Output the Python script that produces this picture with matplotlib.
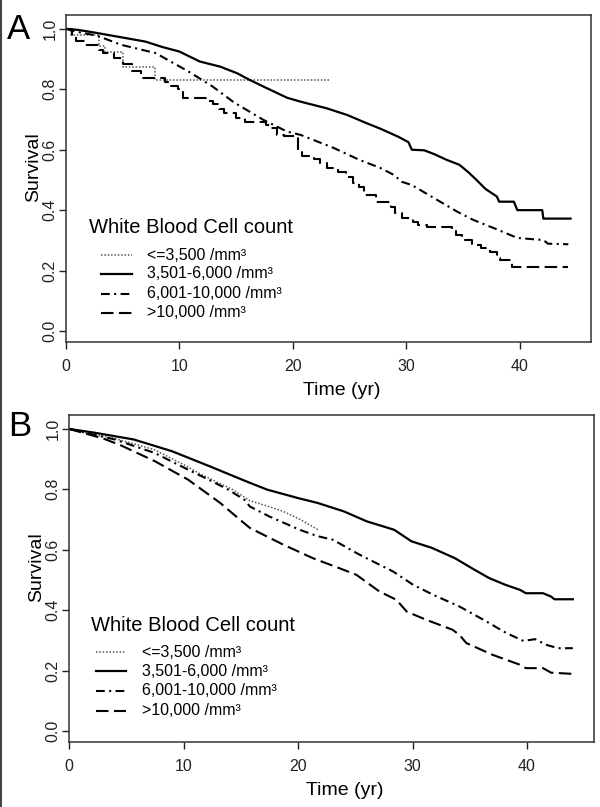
import matplotlib
matplotlib.use("Agg")
import matplotlib.pyplot as plt
from matplotlib.lines import Line2D

plt.rcParams['font.family'] = ['Liberation Sans', 'DejaVu Sans']

legend_title = 'White Blood Cell count'
group_labels = ['<=3,500 /mm³', '3,501-6,000 /mm³', '6,001-10,000 /mm³', '>10,000 /mm³']
x_ticks = [0, 10, 20, 30, 40]
y_ticks = [0.0, 0.2, 0.4, 0.6, 0.8, 1.0]

# panel A (step curves, Kaplan-Meier)
a_t_le3500 = [0, 0.4, 2.9, 3.4, 5.05, 7.85, 23.3]
a_s_le3500 = [1.0, 0.98, 0.945, 0.925, 0.873, 0.832, 0.832]

a_t_3501 = [0, 1.0, 2.5, 4.0, 5.5, 7.0, 8.5, 10.0, 11.8, 13.6, 15.1, 16.2, 17.7, 19.5, 20.7,
            23.0, 24.8, 26.5, 27.7, 29.3, 30.2, 30.5, 31.6, 32.5, 33.6, 34.7, 35.5, 36.2,
            37.0, 38.0, 38.2, 39.5, 39.8, 42.0, 42.1, 44.5]
a_s_3501 = [1.0, 0.997, 0.988, 0.978, 0.968, 0.958, 0.94, 0.925, 0.892, 0.875, 0.853, 0.831,
            0.804, 0.772, 0.759, 0.737, 0.715, 0.688, 0.67, 0.643, 0.625, 0.60, 0.598, 0.585,
            0.566, 0.55, 0.525, 0.50, 0.47, 0.445, 0.428, 0.428, 0.40, 0.40, 0.372, 0.372]

a_t_6001 = [0, 1.0, 2.7, 4.9, 7.9, 10.8, 12.9, 14.8, 17.4, 19.5, 20.7, 23.6, 25.9, 27.7, 28.9,
            29.6, 30.5, 31.5, 33.0, 34.5, 35.9, 37.7, 39.8, 42.1, 42.5, 44.3]
a_s_6001 = [1.0, 0.99, 0.978, 0.947, 0.92, 0.859, 0.81, 0.757, 0.699, 0.66, 0.649, 0.606,
            0.566, 0.54, 0.517, 0.494, 0.483, 0.461, 0.428, 0.395, 0.368, 0.341, 0.308,
            0.301, 0.289, 0.287]

a_t_10000 = [0, 0.5, 0.9, 1.7, 2.9, 3.3, 4.2, 5.0, 5.8, 6.6, 8.7, 9.3, 9.9, 10.3, 12.6, 13.0,
             13.5, 13.9, 15.0, 15.8, 17.6, 18.0, 18.6, 19.2, 20.5, 20.8, 21.9, 22.4, 23.0,
             24.0, 24.7, 25.3, 25.8, 26.3, 27.3, 28.7, 29.0, 29.6, 30.6, 31.0, 31.8, 34.0,
             34.4, 34.9, 35.8, 36.6, 37.4, 38.0, 38.3, 39.3, 44.3]
a_s_10000 = [1.0, 0.975, 0.96, 0.947, 0.93, 0.92, 0.905, 0.885, 0.862, 0.838, 0.825, 0.81,
             0.80, 0.77, 0.76, 0.75, 0.735, 0.72, 0.705, 0.693, 0.682, 0.672, 0.65, 0.645,
             0.6, 0.58, 0.57, 0.555, 0.54, 0.525, 0.51, 0.49, 0.475, 0.45, 0.428, 0.41,
             0.39, 0.374, 0.36, 0.352, 0.345, 0.33, 0.318, 0.30, 0.285, 0.275, 0.262, 0.24,
             0.235, 0.213, 0.213]

# panel B
b_t_le3500 = [0, 2.2, 4.0, 7.4, 10.0, 11.4, 12.8, 14.3, 15.2, 15.8, 17.3, 18.7, 20.2, 21.75]
b_s_le3500 = [1.0, 0.981, 0.968, 0.932, 0.882, 0.852, 0.826, 0.799, 0.777, 0.762, 0.745,
              0.727, 0.70, 0.666]

b_t_3501 = [0, 2.3, 5.65, 9.0, 12.3, 15.5, 17.3, 20.0, 21.7, 24.0, 26.0, 28.4, 29.9, 31.7,
            33.7, 35.4, 36.7, 38.1, 39.4, 39.9, 41.4, 42.1, 42.4, 44.0]
b_s_3501 = [1.0, 0.987, 0.965, 0.926, 0.876, 0.826, 0.799, 0.771, 0.755, 0.727, 0.694, 0.666,
            0.628, 0.606, 0.572, 0.534, 0.506, 0.484, 0.467, 0.456, 0.456, 0.445, 0.436, 0.436]

b_t_6001 = [0, 4.0, 7.5, 10.4, 12.3, 13.9, 15.3, 15.8, 17.5, 20.15, 21.7, 23.05, 25.4, 28.3,
            30.05, 31.8, 34.1, 36.2, 38.2, 39.7, 40.7, 41.7, 42.7, 44.0]
b_s_6001 = [1.0, 0.965, 0.92, 0.865, 0.83, 0.799, 0.766, 0.743, 0.71, 0.666, 0.645, 0.633,
            0.583, 0.528, 0.484, 0.451, 0.412, 0.368, 0.324, 0.298, 0.304, 0.285, 0.274, 0.274]

b_t_10000 = [0, 3.0, 4.5, 7.5, 10.4, 13.2, 14.6, 15.8, 18.7, 21.3, 23.6, 25.1, 27.1, 28.6,
             29.5, 31.2, 33.5, 34.1, 34.7, 37.0, 39.4, 39.9, 41.4, 42.1, 44.0]
b_s_10000 = [1.0, 0.968, 0.946, 0.893, 0.832, 0.755, 0.71, 0.672, 0.617, 0.572, 0.539, 0.517,
             0.462, 0.434, 0.395, 0.368, 0.335, 0.318, 0.291, 0.252, 0.219, 0.208, 0.208,
             0.193, 0.189]

styles = [
    dict(color='#555555', lw=1.1, linestyle=(0, (1, 1.2))),
    dict(color='black', lw=1.6, linestyle='-'),
    dict(color='black', lw=1.5, linestyle=(0, (4.2, 2.1, 1.0, 2.1))),
    dict(color='black', lw=1.5, linestyle=(0, (6, 2.6))),
]


def draw_panel(ax, curves, steps, letter, letter_xy, xmax, leg):
    for (t, s), st, stp in zip(curves, styles, steps):
        ax.plot(t, s, drawstyle='steps-post' if stp else 'default', **st)
    ax.set_xlim(0, xmax)
    ax.set_ylim(-0.0365, 1.046)
    ax.set_xticks(x_ticks)
    ax.set_yticks(y_ticks)
    ax.set_yticklabels([f'{v:.1f}' for v in y_ticks], rotation=90, va='center')
    ax.tick_params(direction='out', length=5, width=1, labelsize=11.5, colors='#222222')
    ax.tick_params(axis='x', pad=7)
    ax.tick_params(axis='y', pad=1)
    for sp in ax.spines.values():
        sp.set_linewidth(1.1)
        sp.set_color('#333333')
    ax.set_xlabel('Time (yr)', fontsize=14)
    ax.set_ylabel('Survival', fontsize=14)
    ax.xaxis.set_label_coords(0.525, -0.122)
    ax.yaxis.set_label_coords(-0.046, 0.534)
    ax.text(letter_xy[0], letter_xy[1], letter, transform=ax.transAxes, fontsize=25,
            ha='center', va='center')

    tx, ty, hx0, hx1, lx, rows = leg
    ax.text(tx, ty, legend_title, transform=ax.transAxes, fontsize=14.5,
            ha='left', va='center')
    for lab, st, ry in zip(group_labels, styles, rows):
        ax.add_line(Line2D([hx0, hx1], [ry, ry], transform=ax.transAxes, **st))
        ax.text(lx, ry, lab, transform=ax.transAxes, fontsize=11.5,
                ha='left', va='center')


fig = plt.figure(figsize=(6, 8.07), dpi=100)
axA = fig.add_axes([66 / 600, 1 - 342 / 807, 525 / 600, 327 / 807])
axB = fig.add_axes([69 / 600, 1 - 742 / 807, 525 / 600, 327 / 807])

draw_panel(axA,
           [(a_t_le3500, a_s_le3500), (a_t_3501, a_s_3501),
            (a_t_6001, a_s_6001), (a_t_10000, a_s_10000)],
           [True, False, False, True], 'A', (-0.091, 0.957), 46.3,
           (0.044, 0.351, 0.067, 0.126, 0.154, [0.266, 0.208, 0.147, 0.089]))
draw_panel(axB,
           [(b_t_le3500, b_s_le3500), (b_t_3501, b_s_3501),
            (b_t_6001, b_s_6001), (b_t_10000, b_s_10000)],
           [False, False, False, False], 'B', (-0.093, 0.966), 45.85,
           (0.042, 0.355, 0.051, 0.109, 0.139, [0.275, 0.217, 0.156, 0.095]))

fig.add_artist(Line2D([0.002, 0.002], [0, 1], transform=fig.transFigure,
                      color='#444444', lw=1.5))

fig.savefig('out.png', dpi=100)
